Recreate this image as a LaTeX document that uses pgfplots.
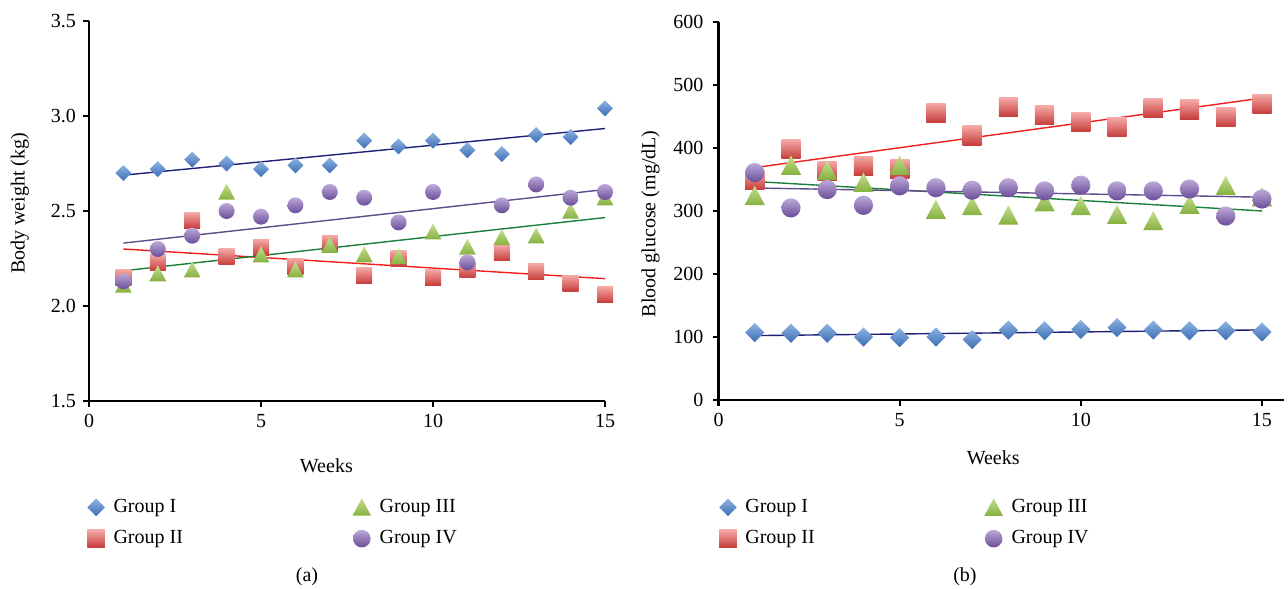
\documentclass[border=0pt]{standalone}
\usepackage{pgfplots}
\usepackage{pgfplotstable}
\pgfplotsset{compat=1.18}
\usepackage{fontspec}
\setmainfont{Liberation Serif}

\definecolor{diaT}{HTML}{8DB3E2}
\definecolor{diaB}{HTML}{3C6EB4}
\definecolor{sqT}{HTML}{F5A9A7}
\definecolor{sqB}{HTML}{C63C3A}
\definecolor{triT}{HTML}{C4DF90}
\definecolor{triB}{HTML}{86B03F}
\definecolor{cirT}{HTML}{BDAAD8}
\definecolor{cirB}{HTML}{6A4C99}
\definecolor{lineI}{HTML}{1F1F78}
\definecolor{lineII}{HTML}{F01E1E}
\definecolor{lineIII}{HTML}{1A7F3A}
\definecolor{lineIV}{HTML}{5E4C8C}

% vertical gradients for the markers
\pgfdeclareverticalshading{shdia}{100bp}{color(0bp)=(diaB); color(25bp)=(diaB); color(75bp)=(diaT); color(100bp)=(diaT)}
\pgfdeclareverticalshading{shsq}{100bp}{color(0bp)=(sqB); color(25bp)=(sqB); color(75bp)=(sqT); color(100bp)=(sqT)}
\pgfdeclareverticalshading{shtri}{100bp}{color(0bp)=(triB); color(25bp)=(triB); color(75bp)=(triT); color(100bp)=(triT)}
\pgfdeclareverticalshading{shcir}{100bp}{color(0bp)=(cirB); color(25bp)=(cirB); color(75bp)=(cirT); color(100bp)=(cirT)}

\pgfdeclareplotmark{gdia}{%
  \pgfpathmoveto{\pgfqpoint{0pt}{\pgfplotmarksize}}%
  \pgfpathlineto{\pgfqpoint{\pgfplotmarksize}{0pt}}%
  \pgfpathlineto{\pgfqpoint{0pt}{-\pgfplotmarksize}}%
  \pgfpathlineto{\pgfqpoint{-\pgfplotmarksize}{0pt}}%
  \pgfpathclose
  \pgfshadepath{shdia}{0}\pgfusepath{discard}}
\pgfdeclareplotmark{gsq}{%
  \pgfpathrectanglecorners{\pgfqpoint{-\pgfplotmarksize}{-\pgfplotmarksize}}{\pgfqpoint{\pgfplotmarksize}{\pgfplotmarksize}}%
  \pgfshadepath{shsq}{0}\pgfusepath{discard}}
\pgfdeclareplotmark{gtri}{%
  \pgfpathmoveto{\pgfqpoint{0pt}{1.05\pgfplotmarksize}}%
  \pgfpathlineto{\pgfqpoint{1.05\pgfplotmarksize}{-0.95\pgfplotmarksize}}%
  \pgfpathlineto{\pgfqpoint{-1.05\pgfplotmarksize}{-0.95\pgfplotmarksize}}%
  \pgfpathclose
  \pgfshadepath{shtri}{0}\pgfusepath{discard}}
\pgfdeclareplotmark{gcir}{%
  \pgfpathcircle{\pgfpointorigin}{\pgfplotmarksize}%
  \pgfshadepath{shcir}{0}\pgfusepath{discard}}

% body weight (kg)
\pgfplotstableread{
w  g1   g2   g3   g4
1  2.70 2.15 2.11 2.13
2  2.72 2.23 2.17 2.30
3  2.77 2.45 2.19 2.37
4  2.75 2.26 2.60 2.50
5  2.72 2.31 2.27 2.47
6  2.74 2.21 2.19 2.53
7  2.74 2.33 2.32 2.60
8  2.87 2.16 2.27 2.57
9  2.84 2.25 2.26 2.44
10 2.87 2.15 2.39 2.60
11 2.82 2.19 2.31 2.23
12 2.80 2.28 2.36 2.53
13 2.90 2.18 2.37 2.64
14 2.89 2.12 2.50 2.57
15 3.04 2.06 2.57 2.60
}\weighttab

% blood glucose (mg/dL)
\pgfplotstableread{
w  g1  g2  g3  g4
1  107 349 324 361
2  106 398 372 305
3  106 364 364 334
4  100 372 345 309
5  99  367 372 340
6  100 456 302 337
7  96  420 308 333
8  111 465 293 337
9  110 452 314 332
10 112 441 308 341
11 115 433 294 332
12 111 464 284 332
13 110 461 310 335
14 110 449 340 292
15 108 470 322 319
}\glucosetab

\pgfplotsset{
  gstyle/.style={
    scale only axis,
    enlargelimits=false,
    clip=false,
    axis x line*=bottom,
    axis y line*=left,
    axis line style={line width=1.1pt},
    tick align=outside,
    major tick length=3pt,
    every tick/.style={black, line width=1.1pt},
    tick label style={font=\fontsize{10}{12}\selectfont},
    label style={font=\fontsize{10}{12}\selectfont},
    /pgf/number format/assume math mode=true,
    xmin=0, xtick={0,5,10,15},
    legend columns=2, transpose legend,
    legend cell align=left,
    legend image code/.code={\draw[##1, mark size=4.4pt] plot coordinates {(0pt,0pt)};},
    legend style={draw=none, fill=none, inner sep=0pt, column sep=0pt, row sep=3.5pt,
      font=\fontsize{10}{12}\selectfont,
      /tikz/every odd column/.append style={column sep=2.3pt},
      /tikz/every even column/.append style={column sep=82.8pt}},
  },
  fitline/.style={no markers, line width=0.7pt},
}

\begin{document}
\begin{tikzpicture}
\useasboundingbox (0pt,0pt) rectangle (644pt,294pt);

\begin{axis}[gstyle,
  at={(44.5pt,93.5pt)}, anchor=south west,
  width=258pt, height=190pt,
  xmax=15,
  ymin=1.5, ymax=3.5, ytick={1.5,2,2.5,3,3.5},
  yticklabel style={/pgf/number format/.cd, fixed, fixed zerofill, precision=1},
  xlabel={Weeks}, ylabel={Body weight (kg)},
  every axis x label/.style={at={(axis description cs:0.46,-0.171)}, anchor=center},
  every axis y label/.style={at={(axis description cs:-0.134,0.52)}, anchor=center, rotate=90},
  mark size=4pt,
  legend style={at={(axis description cs:-0.004,-0.247)}, anchor=north west},
]
\addplot[only marks, mark=gdia] table[x=w, y=g1] {\weighttab};
\addplot[only marks, mark=gsq] table[x=w, y=g2] {\weighttab};
\addplot[only marks, mark=gtri] table[x=w, y=g3] {\weighttab};
\addplot[only marks, mark=gcir] table[x=w, y=g4] {\weighttab};
\legend{Group I, Group II, Group III, Group IV}
\addplot[fitline, lineI] table[x=w, y={create col/linear regression={y=g1}}] {\weighttab};
\addplot[fitline, lineII] table[x=w, y={create col/linear regression={y=g2}}] {\weighttab};
\addplot[fitline, lineIII] table[x=w, y={create col/linear regression={y=g3}}] {\weighttab};
\addplot[fitline, lineIV] table[x=w, y={create col/linear regression={y=g4}}] {\weighttab};
\node[font=\fontsize{10}{12}\selectfont] at (axis description cs:0.4225,-0.463) {(a)};
\end{axis}

\begin{axis}[gstyle,
  at={(359.25pt,94pt)}, anchor=south west,
  width=282.6pt, height=189pt,
  xmax=15.6,
  ymin=0, ymax=600, ytick={0,100,...,600},
  yticklabel style={xshift=-1pt},
  xlabel={Weeks}, ylabel={Blood glucose (mg/dL)},
  every axis x label/.style={at={(axis description cs:0.486,-0.153)}, anchor=center},
  every axis y label/.style={at={(axis description cs:-0.12,0.466)}, anchor=center, rotate=90},
  mark size=4.8pt,
  legend style={at={(axis description cs:0.0005,-0.251)}, anchor=north west},
]
\addplot[only marks, mark=gdia] table[x=w, y=g1] {\glucosetab};
\addplot[only marks, mark=gsq] table[x=w, y=g2] {\glucosetab};
\addplot[only marks, mark=gtri] table[x=w, y=g3] {\glucosetab};
\addplot[only marks, mark=gcir] table[x=w, y=g4] {\glucosetab};
\legend{Group I, Group II, Group III, Group IV}
\addplot[fitline, lineI] table[x=w, y={create col/linear regression={y=g1}}] {\glucosetab};
\addplot[fitline, lineII] table[x=w, y={create col/linear regression={y=g2}}] {\glucosetab};
\addplot[fitline, lineIII] table[x=w, y={create col/linear regression={y=g3}}] {\glucosetab};
\addplot[fitline, lineIV] table[x=w, y={create col/linear regression={y=g4}}] {\glucosetab};
\node[font=\fontsize{10}{12}\selectfont] at (axis description cs:0.436,-0.468) {(b)};
\end{axis}
\end{tikzpicture}
\end{document}
